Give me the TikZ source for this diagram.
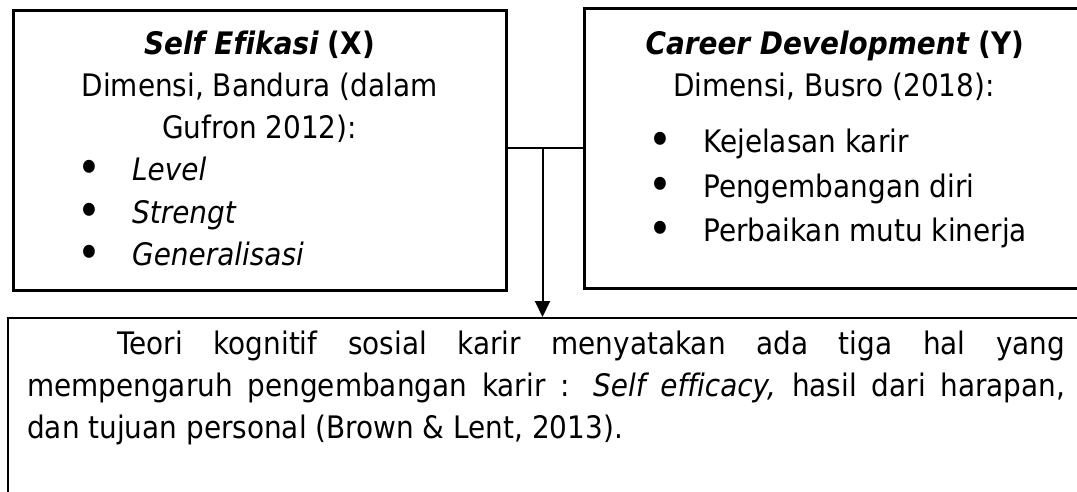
\documentclass[tikz,border=0pt]{standalone}
\usepackage{fontspec}
\setmainfont[Ligatures=CommonOff,FakeStretch=0.9]{DejaVu Sans}
\usetikzlibrary{positioning,arrows.meta}
\newcommand{\bul}{\raisebox{-3pt}{\scalebox{1.45}{\textbullet}}}

\begin{document}
\begin{tikzpicture}[x=1pt,y=-1pt,>={Triangle[length=16pt,width=15pt]},
  box/.style={draw,line width=3pt,inner sep=0pt},
  txt/.style={inner sep=0pt,anchor=base,font=\fontsize{31}{42}\selectfont},
  item/.style={txt,anchor=base west},
  line/.style={line width=2pt}]
\path[use as bounding box,clip] (0,0) rectangle (1077,492);
% the three boxes
\node[box,minimum width=493pt,minimum height=279pt] (sef) at (259.5,150.5) {};
\node[box,minimum width=502pt,minimum height=279pt] (cd) at (835,148.5) {};
\node[box,line width=2.4pt,minimum width=1078pt,minimum height=220pt,anchor=north west] (teori) at (7,317) {};
% variable X
\node[txt] (sefT) at (259.5,55) {\textbf{\textit{Self Efikasi}} \textbf{(X)}};
\node[txt] (sefD) at (259.5,97) {Dimensi, Bandura (dalam};
\node[txt] (sefG) at (259.5,139) {Gufron 2012):};
\foreach \t [count=\i] in {Level,Strengt,Generalisasi}
  \node[item] (sefI\i) at (46,139+42*\i) {\makebox[86pt]{\bul}\textit{\t}};
% variable Y
\node[txt] (cdT) at (835,55) {\textbf{\textit{Career Development}} \textbf{(Y)}};
\node[txt] (cdD) at (834,97) {Dimensi, Busro (2018):};
\foreach \t [count=\i] in {Kejelasan karir,Pengembangan diri,Perbaikan mutu kinerja}
  \node[item] (cdI\i) at (617,109+44*\i) {\makebox[86pt]{\bul}\t};
% theory
\node[txt,anchor=north west,text width=1038pt,align=justify] (teoriP) at (27,331)
  {\hspace*{90pt}Teori kognitif sosial karir menyatakan ada tiga hal yang\linebreak
   mempengaruh pengembangan karir : \textit{Self efficacy,} hasil dari harapan,\linebreak
   dan tujuan personal (Brown \& Lent, 2013).};
% connectors
\coordinate (j) at (542.5,148.5);
\draw[line] (sef.east |- cd.west) -- (cd.west);
\draw[line,->] (j) -- (j |- teori.north);
\end{tikzpicture}
\end{document}
